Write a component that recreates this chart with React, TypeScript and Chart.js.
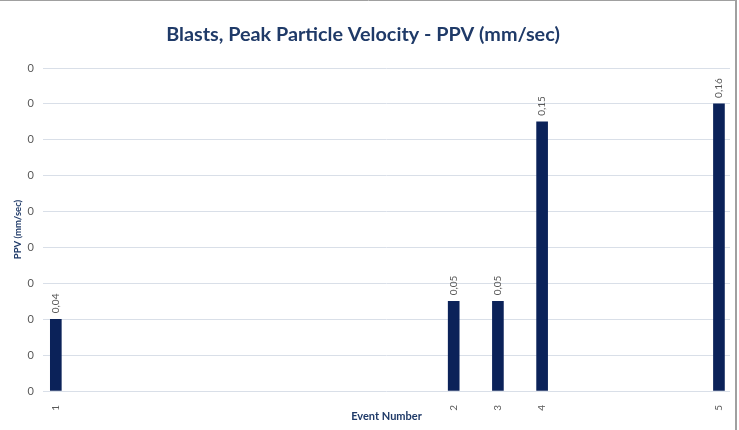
import React, { useEffect, useRef } from "react";
import { Chart, registerables } from "chart.js";

Chart.register(...registerables);

const chartTitle = "Blasts, Peak Particle Velocity - PPV (mm/sec)";
const xAxisTitle = "Event Number";
const yAxisTitle = "PPV (mm/sec)";
const eventLabels = ["1", "2", "3", "4", "5"];
const eventDayOffsets = [0, 9, 10, 11, 15];
const ppvValues = [0.04, 0.05, 0.05, 0.15, 0.16];
const yMin = 0;
const yMax = 0.18;
const yStep = 0.02;

const FONT = "Lato";
const NAVY = "#1f3a68";
const GREY = "#595959";

const valueLabels = {
  id: "valueLabels",
  afterDatasetsDraw(chart: any) {
    const ctx = chart.ctx;
    const meta = chart.getDatasetMeta(0);
    ctx.save();
    ctx.font = `10px ${FONT}`;
    ctx.fillStyle = GREY;
    meta.data.forEach((bar: any, i: number) => {
      const { x, y } = bar.getProps(["x", "y"], true);
      ctx.save();
      ctx.translate(x, y - 6);
      ctx.rotate(-Math.PI / 2);
      ctx.textAlign = "left";
      ctx.textBaseline = "middle";
      ctx.fillText(ppvValues[i].toFixed(2).replace(".", ","), 0, 0);
      ctx.restore();
    });
    ctx.restore();
  },
};

const titleAndFrame = {
  id: "titleAndFrame",
  afterDraw(chart: any) {
    const ctx = chart.ctx;
    ctx.save();
    ctx.font = `bold 19.8px ${FONT}`;
    ctx.fillStyle = NAVY;
    ctx.textAlign = "center";
    ctx.textBaseline = "middle";
    ctx.fillText(chartTitle, 363, 35);
    ctx.strokeStyle = "#a0a0a0";
    ctx.lineWidth = 1;
    ctx.beginPath();
    ctx.moveTo(0, 0.5);
    ctx.lineTo(737, 0.5);
    ctx.stroke();
    ctx.lineWidth = 2;
    ctx.beginPath();
    ctx.moveTo(736, 0);
    ctx.lineTo(736, 430);
    ctx.stroke();
    ctx.restore();
  },
};

export default function App() {
  const ref = useRef<HTMLCanvasElement | null>(null);

  useEffect(() => {
    if (!ref.current) return;
    const chart = new Chart(ref.current, {
      type: "bar",
      data: {
        datasets: [
          {
            label: yAxisTitle,
            data: eventDayOffsets.map((x, i) => ({ x, y: ppvValues[i] })),
            backgroundColor: "#0b2259",
            barThickness: 11,
          },
        ],
      },
      options: {
        animation: false,
        responsive: false,
        devicePixelRatio: 1,
        layout: { padding: { top: 68, left: 0, right: 9, bottom: 0 } },
        plugins: {
          legend: { display: false },
          tooltip: { enabled: false },
        },
        scales: {
          x: {
            type: "linear",
            min: -0.29,
            max: 15.25,
            offset: false,
            grid: { display: false, offset: false },
            border: { display: false },
            afterBuildTicks: (scale: any) => {
              scale.ticks = eventDayOffsets.map((v) => ({ value: v }));
            },
            afterFit: (scale: any) => {
              scale.height = 39;
            },
            ticks: {
              minRotation: 90,
              maxRotation: 90,
              autoSkip: false,
              padding: 6,
              color: GREY,
              font: { family: FONT, size: 10 },
              callback: (value: any) => {
                const idx = eventDayOffsets.indexOf(Number(value));
                return idx >= 0 ? eventLabels[idx] : "";
              },
            },
            title: {
              display: true,
              text: xAxisTitle,
              color: NAVY,
              font: { family: FONT, size: 11, weight: "bold" },
              padding: { top: 0, bottom: 7 },
            },
          },
          y: {
            min: yMin,
            max: yMax,
            grid: { color: "#d9dfe8", drawTicks: false },
            border: { display: false },
            afterFit: (scale: any) => {
              scale.width = 43;
            },
            ticks: {
              stepSize: yStep,
              padding: 9,
              color: GREY,
              font: { family: FONT, size: 11 },
              callback: (value: any) => Math.round(Number(value)).toFixed(0),
            },
            title: {
              display: true,
              text: yAxisTitle,
              color: NAVY,
              font: { family: FONT, size: 9.5, weight: "bold" },
              padding: { top: 12, bottom: 0 },
            },
          },
        },
      },
      plugins: [valueLabels, titleAndFrame],
    });
    return () => chart.destroy();
  }, []);

  return (
    <div style={{ position: "absolute", left: 0, top: 0, width: 739, height: 430, background: "#fff" }}>
      <canvas ref={ref} width={739} height={430} style={{ width: 739, height: 430, display: "block" }} />
    </div>
  );
}
